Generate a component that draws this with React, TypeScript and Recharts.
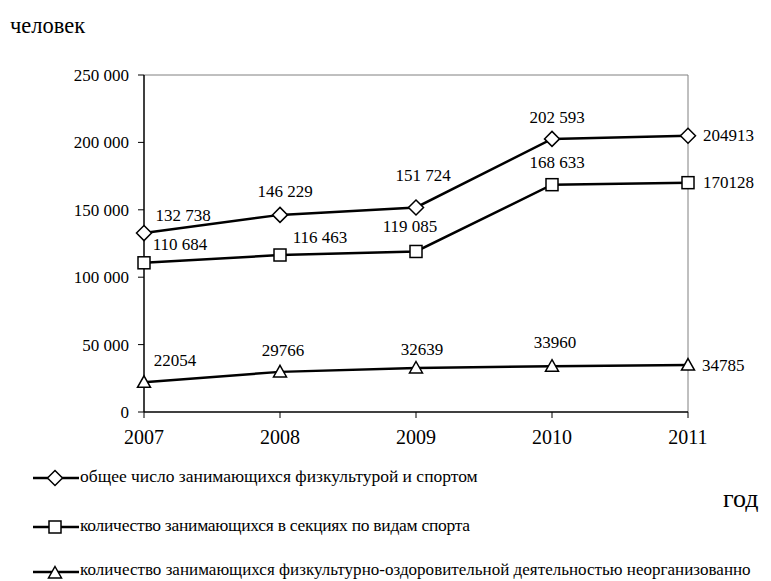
import { LineChart, Line, XAxis, YAxis, ReferenceLine, LabelList } from 'recharts';

const years = ['2007', '2008', '2009', '2010', '2011'];
const totalSport = [132738, 146229, 151724, 202593, 204913];
const sections = [110684, 116463, 119085, 168633, 170128];
const unorganized = [22054, 29766, 32639, 33960, 34785];
const yTicks = [0, 50000, 100000, 150000, 200000, 250000];

const seriesNames = [
  'общее число занимающихся физкультурой и спортом',
  'количество занимающихся в секциях по видам спорта',
  'количество занимающихся физкультурно-оздоровительной деятельностью неорганизованно',
];

const data = years.map((year, i) => ({
  year,
  total: totalSport[i],
  sections: sections[i],
  unorg: unorganized[i],
}));

// label offsets (dx, dy) relative to the point, last one is drawn to the right
const totalOffsets = [[39, -18], [5, -23], [7, -32], [5, -21], [15, 0]];
const sectionOffsets = [[36, -18], [40, -18], [-6, -25], [5, -22], [15, 0]];
const unorgOffsets = [[31, -22], [3, -21], [6, -19], [3, -24], [14, 0]];

const FONT = 'Liberation Serif, DejaVu Serif, serif';

const spaced = (v: number) => String(v).replace(/\B(?=(\d{3})+(?!\d))/g, ' ');

const Diamond = ({ cx, cy }: any) => (
  <path d={`M${cx},${cy - 7.5}L${cx + 7.5},${cy}L${cx},${cy + 7.5}L${cx - 7.5},${cy}Z`} fill="#fff" stroke="#000" strokeWidth={1.5} />
);
const Square = ({ cx, cy }: any) => (
  <rect x={cx - 6} y={cy - 6} width={12} height={12} fill="#fff" stroke="#000" strokeWidth={1.5} />
);
const Triangle = ({ cx, cy }: any) => (
  <path d={`M${cx},${cy - 6.5}L${cx + 6.5},${cy + 5}L${cx - 6.5},${cy + 5}Z`} fill="#fff" stroke="#000" strokeWidth={1.5} />
);

const makeLabel = (offsets: number[][], group: boolean) => (props: any) => {
  const { x, y, value, index } = props;
  const [dx, dy] = offsets[index];
  const last = index === years.length - 1;
  const text = group && !last ? spaced(value) : String(value);
  return (
    <text
      x={x + dx}
      y={y + dy}
      textAnchor={last ? 'start' : 'middle'}
      dominantBaseline="central"
      style={{ fontFamily: FONT }}
      fontSize={17}
      fill="#000"
    >
      {text}
    </text>
  );
};

const LegendIcon = ({ kind }: { kind: number }) => (
  <svg width={48} height={18} style={{ position: 'absolute', left: 0, top: 3 }}>
    <line x1={1} y1={9} x2={47} y2={9} stroke="#000" strokeWidth={2.5} />
    {kind === 0 && <Diamond cx={23} cy={9} />}
    {kind === 1 && <Square cx={23} cy={9} />}
    {kind === 2 && <Triangle cx={23} cy={10} />}
  </svg>
);

export default function App() {
  const legendTops = [466, 515, 560];
  const legendSpacing = [0, -0.28, 0.02];
  return (
    <div style={{ position: 'absolute', left: 0, top: 0, width: 771, height: 581, background: '#fff', fontFamily: FONT, overflow: 'hidden' }}>
      <div style={{ position: 'absolute', left: 10, top: 15, fontSize: 22.5, lineHeight: '1' }}>человек</div>
      <div style={{ position: 'absolute', left: 723, top: 486, fontSize: 26, lineHeight: '1' }}>год</div>
      <LineChart
        width={771}
        height={581}
        data={data}
        margin={{ top: 75, right: 83, left: 64, bottom: 139 }}
        style={{ fontFamily: FONT }}
      >
        <ReferenceLine y={250000} stroke="#808080" strokeWidth={1} />
        <ReferenceLine x="2011" stroke="#808080" strokeWidth={1} />
        <XAxis
          dataKey="year"
          height={30}
          axisLine={{ stroke: '#000', strokeWidth: 1.5 }}
          tickLine={{ stroke: '#000' }}
          tickSize={6}
          tickMargin={12}
          tick={{ fill: '#000', fontSize: 20, style: { fontFamily: FONT } }}
        />
        <YAxis
          width={80}
          domain={[0, 250000]}
          ticks={yTicks}
          tickFormatter={spaced}
          axisLine={{ stroke: '#000', strokeWidth: 1.5 }}
          tickLine={{ stroke: '#000' }}
          tickSize={6}
          tickMargin={9}
          tick={{ fill: '#000', fontSize: 17, style: { fontFamily: FONT } }}
        />
        <Line dataKey="total" stroke="#000" strokeWidth={2.5} dot={(p: any) => <Diamond key={p.index} {...p} />} isAnimationActive={false}>
          <LabelList dataKey="total" content={makeLabel(totalOffsets, true)} />
        </Line>
        <Line dataKey="sections" stroke="#000" strokeWidth={2.5} dot={(p: any) => <Square key={p.index} {...p} />} isAnimationActive={false}>
          <LabelList dataKey="sections" content={makeLabel(sectionOffsets, true)} />
        </Line>
        <Line dataKey="unorg" stroke="#000" strokeWidth={2.5} dot={(p: any) => <Triangle key={p.index} {...p} />} isAnimationActive={false}>
          <LabelList dataKey="unorg" content={makeLabel(unorgOffsets, false)} />
        </Line>
      </LineChart>
      {seriesNames.map((name, i) => (
        <div key={name} style={{ position: 'absolute', left: 32, top: legendTops[i], height: 20, fontSize: i === 2 ? 17 : 17.5, lineHeight: '20px', whiteSpace: 'nowrap' }}>
          <LegendIcon kind={i} />
          <span style={{ marginLeft: 48, letterSpacing: legendSpacing[i] }}>{name}</span>
        </div>
      ))}
    </div>
  );
}
